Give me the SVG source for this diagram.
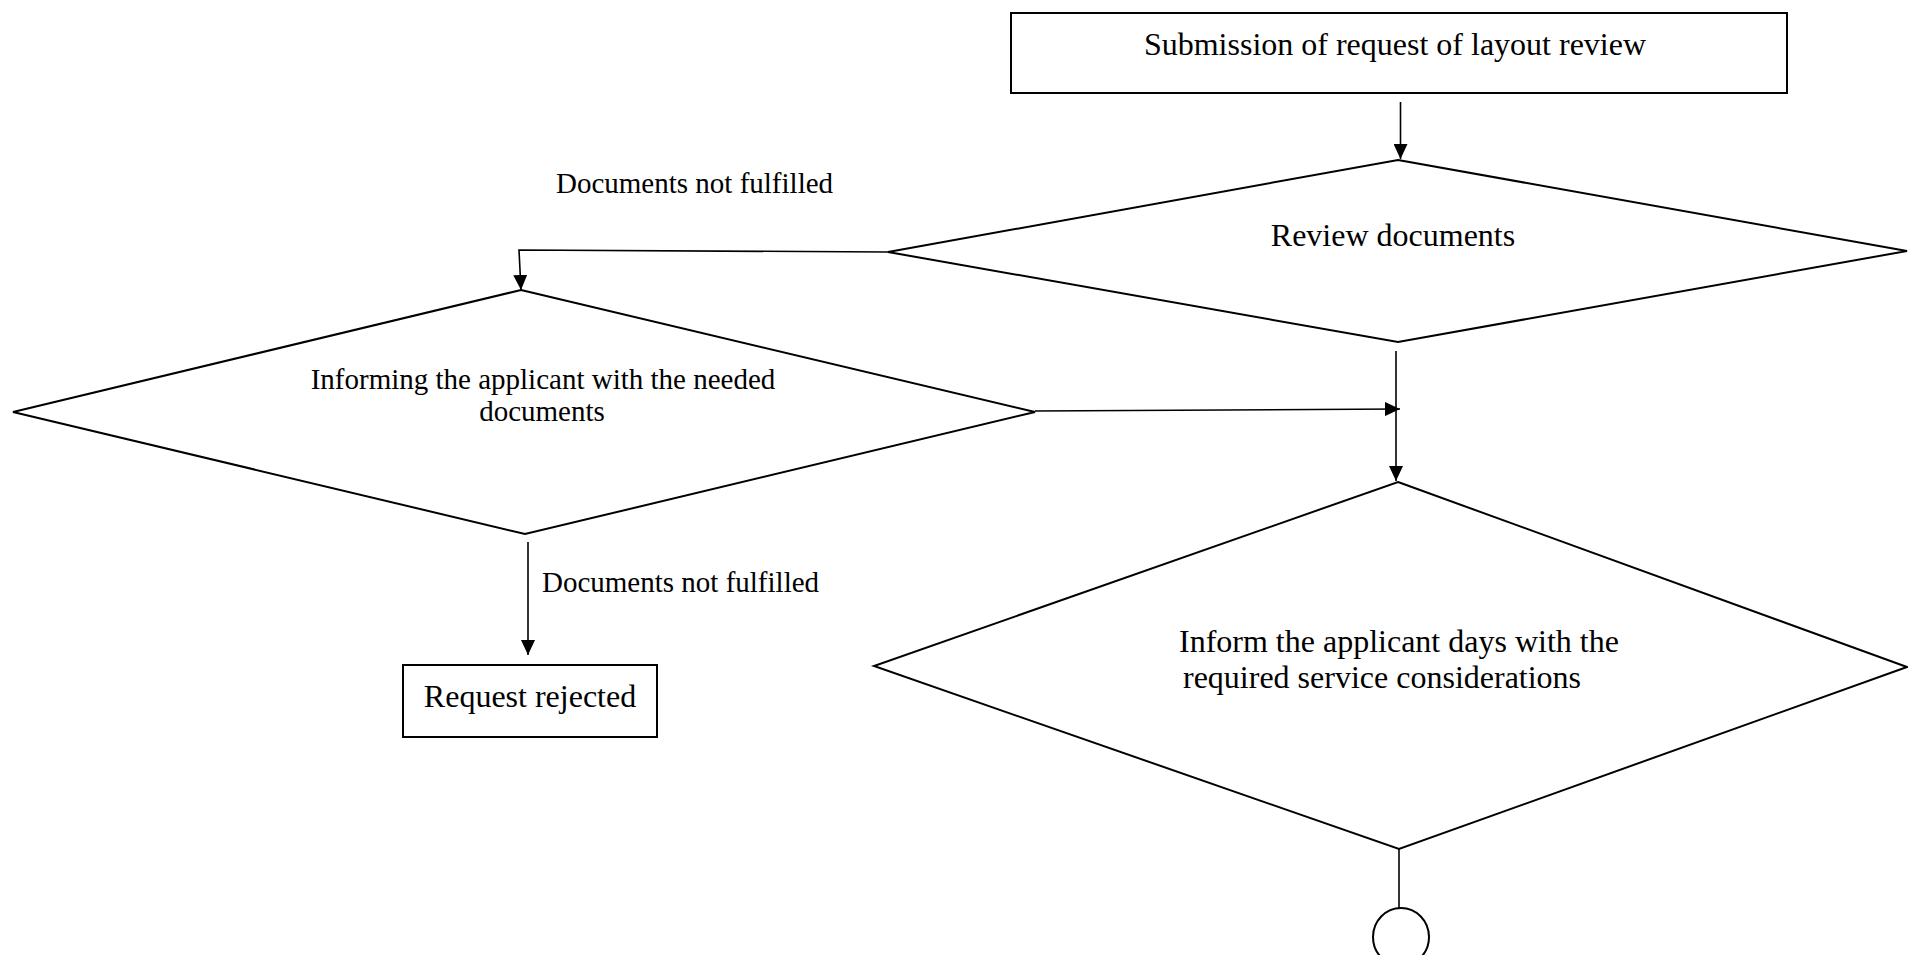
<svg xmlns="http://www.w3.org/2000/svg" width="1908" height="955" viewBox="0 0 1908 955">
<style>
.shape{fill:#fff;stroke:#000;stroke-width:2}
.conn{fill:none;stroke:#000;stroke-width:1.6}
text{font-family:"Liberation Serif","Times New Roman",serif;fill:#000}
.t32{font-size:32px}
.t29{font-size:29px}
.mid{text-anchor:middle}
</style>
<defs>
<marker id="arr" markerUnits="userSpaceOnUse" markerWidth="16" markerHeight="14" refX="15" refY="7" orient="auto">
<path d="M0,0 L15,7 L0,14 z" fill="#000"/>
</marker>
</defs>
<rect width="1908" height="955" fill="#fff"/>
<g id="n-submission">
<rect class="shape" x="1011" y="13" width="776" height="80"/>
<text class="t32 mid" x="1395" y="55">Submission of request of layout review</text>
</g>
<g id="n-review">
<polygon class="shape" points="1398,160 1907,251 1398,342 888,252"/>
<text class="t32 mid" x="1393" y="246">Review documents</text>
</g>
<g id="n-informing">
<polygon class="shape" points="521,290 1035,412 525,534 13,412"/>
<text class="t29 mid" x="543" y="389">Informing the applicant with the needed</text>
<text class="t29 mid" x="542" y="421">documents</text>
</g>
<g id="n-rejected">
<rect class="shape" x="403" y="665" width="254" height="72"/>
<text class="t32 mid" x="530" y="707">Request rejected</text>
</g>
<g id="n-inform">
<polygon class="shape" points="1398,482 1907,667 1399,849 874,666"/>
<text class="t32" x="1179" y="652">Inform the applicant days with the</text>
<text class="t32" x="1183" y="688">required service considerations</text>
</g>
<g id="n-connector-circle">
<ellipse class="shape" cx="1401" cy="937" rx="28" ry="29"/>
</g>
<g id="connectors">
<path class="conn" d="M1400.5,102 L1400.5,159" marker-end="url(#arr)"/>
<path class="conn" d="M888,252 L519,250 L521,290" marker-end="url(#arr)"/>
<path class="conn" d="M1396,351 L1396,481" marker-end="url(#arr)"/>
<path class="conn" d="M1035,411 L1400,409" marker-end="url(#arr)"/>
<path class="conn" d="M528,542 L528,655" marker-end="url(#arr)"/>
<path class="conn" d="M1399,849 L1399,908"/>
<text class="t29" x="556" y="193">Documents not fulfilled</text>
<text class="t29" x="542" y="592">Documents not fulfilled</text>
</g>
</svg>
